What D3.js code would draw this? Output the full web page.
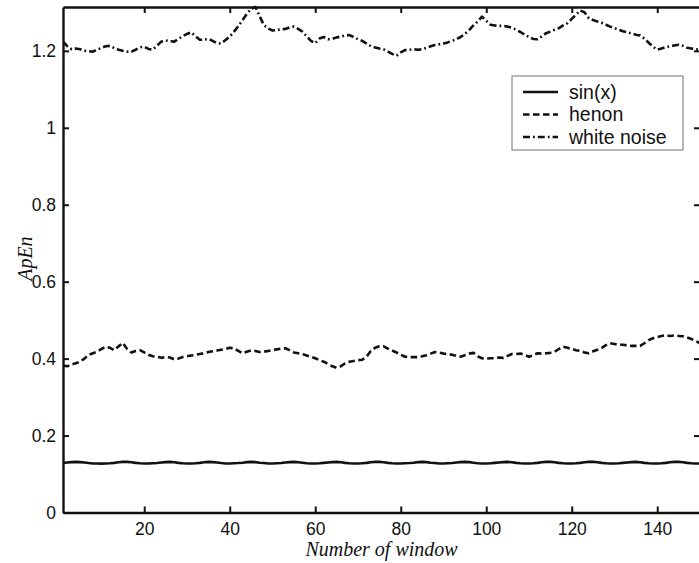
<!DOCTYPE html>
<html>
<head>
<meta charset="utf-8">
<script src="https://cdn.jsdelivr.net/npm/d3@7"></script>
<style>
  html, body { margin: 0; padding: 0; background: #fff; }
  svg { display: block; }
</style>
</head>
<body>
<svg id="chart" width="699" height="563"></svg>
<script>
// ApEn of three signals computed over sliding windows 1..150
const sinValues = [
  0.1285,0.130,0.131,0.1315,0.131,0.130,0.1285,0.1275,0.1275,0.127,
  0.1275,0.128,0.129,0.1305,0.1315,0.1315,0.1305,0.129,0.128,0.1275,
  0.1275,0.128,0.1285,0.130,0.131,0.1315,0.1305,0.129,0.128,0.1275,
  0.1275,0.128,0.129,0.1305,0.1315,0.131,0.130,0.1285,0.1275,0.1275,
  0.128,0.1285,0.1295,0.131,0.1315,0.131,0.1295,0.1285,0.1275,0.1275,
  0.128,0.1285,0.130,0.131,0.1315,0.1305,0.1295,0.128,0.1275,0.1275,
  0.128,0.129,0.130,0.131,0.1315,0.1305,0.129,0.128,0.1275,0.1275,
  0.128,0.129,0.1305,0.1315,0.1315,0.1305,0.129,0.128,0.1275,0.1275,
  0.128,0.1285,0.1295,0.131,0.1315,0.131,0.1295,0.1285,0.1275,0.1275,
  0.128,0.1285,0.130,0.131,0.1315,0.131,0.1295,0.128,0.1275,0.1275,
  0.128,0.129,0.130,0.131,0.1315,0.1305,0.129,0.128,0.1275,0.1275,
  0.128,0.129,0.1305,0.1315,0.1315,0.1305,0.129,0.128,0.1275,0.1275,
  0.128,0.129,0.1305,0.1315,0.1315,0.1305,0.129,0.128,0.1275,0.1275,
  0.128,0.129,0.130,0.131,0.1315,0.1305,0.129,0.128,0.1275,0.1275,
  0.128,0.129,0.1305,0.1315,0.1315,0.1305,0.129,0.128,0.1275,0.1275
];

const henonValues = [
  0.382,0.380,0.385,0.388,0.392,0.400,0.410,0.414,0.418,0.425,
  0.431,0.428,0.422,0.432,0.441,0.425,0.416,0.420,0.422,0.416,
  0.410,0.406,0.405,0.402,0.404,0.403,0.398,0.400,0.404,0.406,
  0.408,0.410,0.412,0.414,0.417,0.419,0.421,0.423,0.425,0.428,
  0.427,0.420,0.414,0.418,0.421,0.420,0.417,0.418,0.420,0.422,
  0.424,0.426,0.427,0.422,0.416,0.414,0.412,0.408,0.405,0.401,
  0.396,0.392,0.386,0.380,0.376,0.380,0.388,0.392,0.394,0.396,
  0.397,0.405,0.420,0.428,0.432,0.432,0.426,0.421,0.416,0.410,
  0.405,0.404,0.404,0.404,0.406,0.409,0.413,0.417,0.416,0.413,
  0.412,0.410,0.407,0.405,0.409,0.413,0.415,0.406,0.401,0.400,
  0.401,0.401,0.403,0.402,0.407,0.412,0.412,0.413,0.410,0.405,
  0.409,0.414,0.413,0.414,0.415,0.418,0.425,0.431,0.428,0.425,
  0.422,0.420,0.416,0.414,0.419,0.423,0.428,0.435,0.440,0.438,
  0.436,0.436,0.434,0.433,0.433,0.433,0.440,0.448,0.453,0.456,
  0.459,0.461,0.459,0.460,0.459,0.458,0.455,0.451,0.446,0.440
];

const noiseValues = [
  1.224,1.212,1.204,1.206,1.204,1.200,1.199,1.198,1.203,1.208,
  1.212,1.213,1.207,1.203,1.200,1.198,1.198,1.203,1.209,1.211,
  1.205,1.203,1.214,1.224,1.227,1.225,1.224,1.231,1.238,1.244,
  1.248,1.238,1.229,1.229,1.231,1.226,1.220,1.219,1.228,1.237,
  1.250,1.264,1.280,1.296,1.309,1.314,1.290,1.267,1.258,1.253,
  1.254,1.256,1.257,1.261,1.263,1.257,1.250,1.238,1.226,1.220,
  1.232,1.236,1.230,1.231,1.235,1.237,1.240,1.241,1.236,1.230,
  1.226,1.219,1.212,1.209,1.206,1.204,1.198,1.192,1.187,1.196,
  1.202,1.203,1.204,1.203,1.204,1.208,1.212,1.215,1.217,1.219,
  1.222,1.226,1.230,1.236,1.244,1.254,1.266,1.276,1.289,1.278,
  1.268,1.266,1.265,1.265,1.263,1.260,1.255,1.249,1.242,1.236,
  1.231,1.230,1.238,1.246,1.250,1.255,1.259,1.266,1.272,1.283,
  1.294,1.305,1.300,1.285,1.280,1.276,1.273,1.268,1.263,1.259,
  1.255,1.251,1.248,1.245,1.242,1.240,1.232,1.221,1.211,1.203,
  1.206,1.210,1.212,1.214,1.216,1.213,1.208,1.206,1.204,1.203
];

const seriesNames = ["sin(x)", "henon", "white noise"];
const xTicks = [20, 40, 60, 80, 100, 120, 140];
const yTicks = [0, 0.2, 0.4, 0.6, 0.8, 1, 1.2];
const xDomain = [1, 150];
const yDomain = [0, 1.314];

const seriesData = [sinValues, henonValues, noiseValues];
const dashes = [null, "6.5,3.5", "7,3,1.8,3"];

const margin = { top: 7, left: 63, right: -1, bottom: 50.5 };
const W = 699, H = 563;
const plotW = W - margin.left - margin.right;
const plotH = H - margin.top - margin.bottom;

const svg = d3.select("#chart");
const g = svg.append("g").attr("transform", `translate(${margin.left},${margin.top})`);

const x = d3.scaleLinear().domain(xDomain).range([0, plotW]);
const y = d3.scaleLinear().domain(yDomain).range([plotH, 0]);

const tickFont = "Liberation Sans, Arial, sans-serif";
const tickSize = "17.5px";
const ink = "#111";

// data lines
const line = d3.line()
  .x((d, i) => x(i + 1))
  .y(d => y(d));

g.append("defs").append("clipPath").attr("id", "plotclip")
  .append("rect").attr("x", 0).attr("y", -2).attr("width", plotW).attr("height", plotH + 2);

seriesData.forEach((vals, k) => {
  g.append("path")
    .datum(vals)
    .attr("clip-path", "url(#plotclip)")
    .attr("fill", "none")
    .attr("stroke", ink)
    .attr("stroke-width", 2.6)
    .attr("stroke-linejoin", "round")
    .attr("stroke-dasharray", dashes[k])
    .attr("d", line);
});

// axes: bottom/left carry labels, top/right repeat the ticks
const xAxis = d3.axisBottom(x).tickValues(xTicks).tickSizeInner(-6).tickSizeOuter(0).tickPadding(10);
const yAxis = d3.axisLeft(y).tickValues(yTicks).tickSizeInner(-6).tickSizeOuter(0).tickPadding(7)
  .tickFormat(d3.format("~g"));

const gx = g.append("g").attr("transform", `translate(0,${plotH})`).call(xAxis);
const gy = g.append("g").call(yAxis);
const gxt = g.append("g").call(d3.axisTop(x).tickValues(xTicks).tickSizeInner(-6).tickSizeOuter(0).tickFormat(""));
const gyr = g.append("g").attr("transform", `translate(${plotW},0)`)
  .call(d3.axisRight(y).tickValues(yTicks).tickSizeInner(-6).tickSizeOuter(0).tickFormat(""));

[gx, gy, gxt, gyr].forEach(a => {
  a.select(".domain").attr("stroke", ink).attr("stroke-width", 2.4);
  a.selectAll(".tick line").attr("stroke", ink).attr("stroke-width", 2);
  a.selectAll(".tick text")
    .attr("fill", ink)
    .style("font-family", tickFont)
    .style("font-size", tickSize);
});

// axis titles
svg.append("text")
  .attr("x", margin.left + plotW / 2)
  .attr("y", 556)
  .attr("text-anchor", "middle")
  .style("font-family", "Liberation Serif, Times New Roman, serif")
  .style("font-style", "italic")
  .style("font-size", "20px")
  .attr("fill", ink)
  .text("Number of window");

svg.append("text")
  .attr("transform", `translate(32,${margin.top + y(0.66)}) rotate(-90)`)
  .attr("text-anchor", "middle")
  .style("font-family", "Liberation Serif, Times New Roman, serif")
  .style("font-style", "italic")
  .style("font-size", "20px")
  .attr("fill", ink)
  .text("ApEn");

// legend
const lg = svg.append("g").attr("transform", "translate(512,76)");
lg.append("rect")
  .attr("width", 171).attr("height", 74)
  .attr("fill", "#fff")
  .attr("stroke", "#888")
  .attr("stroke-width", 1.2);

seriesNames.forEach((name, k) => {
  const cy = 16 + k * 22.5;
  lg.append("line")
    .attr("x1", 11).attr("x2", 46)
    .attr("y1", cy).attr("y2", cy)
    .attr("stroke", ink)
    .attr("stroke-width", 2.6)
    .attr("stroke-dasharray", dashes[k]);
  lg.append("text")
    .attr("x", 57).attr("y", cy)
    .attr("dy", "0.35em")
    .style("font-family", tickFont)
    .style("font-size", "19.5px")
    .attr("fill", ink)
    .text(name);
});
</script>
</body>
</html>
